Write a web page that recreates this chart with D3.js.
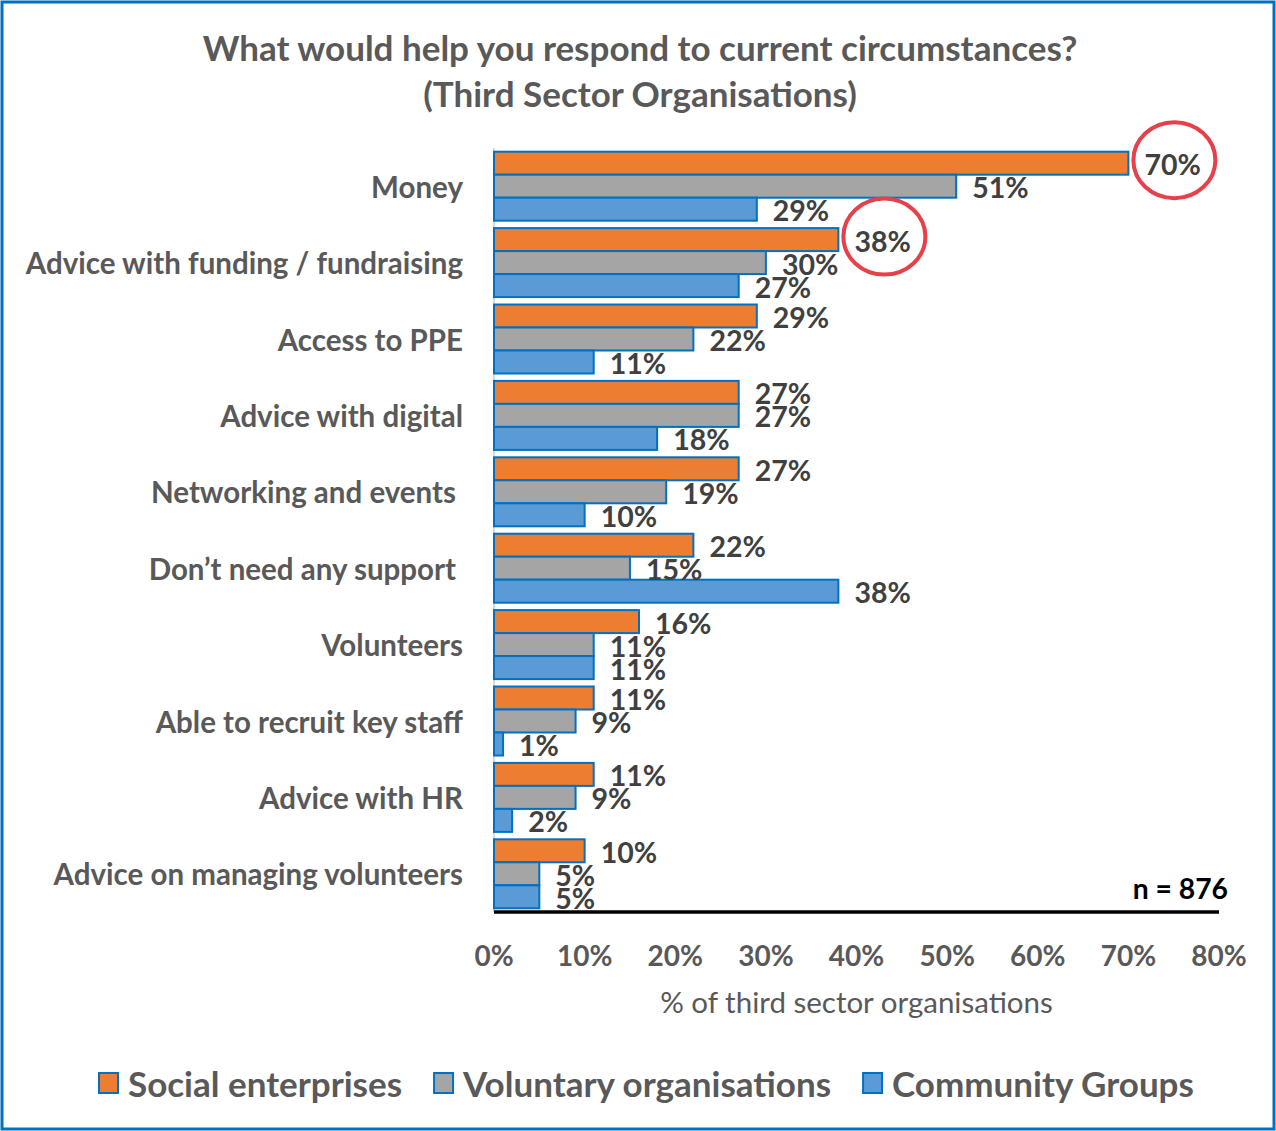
<!DOCTYPE html>
<html><head><meta charset="utf-8">
<script src="https://cdn.jsdelivr.net/npm/d3@7"></script>
<style>body{margin:0;background:#fff}svg{display:block}text{font-family:Lato,"Open Sans",sans-serif}</style>
</head><body>
<script>
const categories = ["Money","Advice with funding / fundraising","Access to PPE","Advice with digital","Networking and events","Don\u2019t need any support","Volunteers","Able to recruit key staff","Advice with HR","Advice on managing volunteers"];
const seriesNames = ["Social enterprises","Voluntary organisations","Community Groups"];
const socialEnterprises = [70,38,29,27,27,22,16,11,11,10];
const voluntaryOrgs = [51,30,22,27,19,15,11,9,9,5];
const communityGroups = [29,27,11,18,10,38,11,1,2,5];
const xTicks = [0,10,20,30,40,50,60,70,80];
const highlights = [{cat:0, s:0},{cat:1, s:0}];
const colors = ["#ED7D31","#A5A5A5","#5B9BD5"];

const W=1276,H=1131;
const svg=d3.select("body").append("svg").attr("width",W).attr("height",H);
svg.append("rect").attr("x",2).attr("y",2).attr("width",W-4).attr("height",H-4).attr("fill","#fff").attr("stroke","#0070C0").attr("stroke-width",3);

svg.append("text").attr("x",640).attr("y",47).attr("text-anchor","middle").attr("dominant-baseline","central")
  .attr("font-size",35).attr("font-weight","bold").attr("fill","#595959").text("What would help you respond to current circumstances?");
svg.append("text").attr("x",640).attr("y",93).attr("text-anchor","middle").attr("dominant-baseline","central")
  .attr("font-size",35).attr("font-weight","bold").attr("fill","#595959").text("(Third Sector Organisations)");

const x=d3.scaleLinear().domain([0,80]).range([494,1219]);
const y=d3.scaleBand().domain(categories).range([148,912]).paddingInner(0.097).paddingOuter(0.0485);
const ys=d3.scaleBand().domain([0,1,2]).range([0,y.bandwidth()]);
const values=[socialEnterprises,voluntaryOrgs,communityGroups];

svg.append("line").attr("x1",494).attr("x2",494).attr("y1",148).attr("y2",912).attr("stroke","#D9D9D9").attr("stroke-width",2);

const data=[];
categories.forEach((c,i)=>values.forEach((arr,s)=>data.push({c,i,s,v:arr[i]})));

svg.append("g").selectAll("rect").data(data).join("rect")
  .attr("x",x(0)).attr("y",d=>y(d.c)+ys(d.s)).attr("width",d=>x(d.v)-x(0)).attr("height",ys.bandwidth())
  .attr("fill",d=>colors[d.s]).attr("stroke","#0070C0").attr("stroke-width",2);

svg.append("g").selectAll("text").data(data).join("text")
  .attr("x",d=>x(d.v)+16).attr("y",d=>y(d.c)+ys(d.s)+ys.bandwidth()/2+1).attr("dominant-baseline","central")
  .attr("font-size",28.5).attr("font-weight","bold").attr("fill","#404040").text(d=>d.v+"%");

svg.append("g").selectAll("text").data(categories).join("text")
  .attr("x",(d,i)=> (i===4||i===5)?456:463).attr("y",d=>y(d)+y.bandwidth()/2).attr("text-anchor","end").attr("dominant-baseline","central")
  .attr("font-size",29.5).attr("font-weight","bold").attr("fill","#595959").text(d=>d);

svg.append("line").attr("x1",494).attr("x2",1219).attr("y1",912).attr("y2",912).attr("stroke","#000").attr("stroke-width",3.5);
svg.append("g").selectAll("text").data(xTicks).join("text")
  .attr("x",d=>x(d)).attr("y",955).attr("text-anchor","middle").attr("dominant-baseline","central")
  .attr("font-size",28).attr("font-weight","bold").attr("fill","#595959").text(d=>d+"%");
svg.append("text").attr("x",(x(0)+x(80))/2).attr("y",1001).attr("text-anchor","middle").attr("dominant-baseline","central")
  .attr("font-size",29.5).attr("fill","#595959").text("% of third sector organisations");

svg.append("text").attr("x",1228).attr("y",888).attr("text-anchor","end").attr("dominant-baseline","central")
  .attr("font-size",28.3).attr("font-weight","bold").attr("fill","#000").text("n = 876");

svg.append("g").selectAll("ellipse").data(highlights).join("ellipse")
  .attr("cx",d=>x(values[d.s][d.cat])+46).attr("cy",d=>y(categories[d.cat])+ys(d.s)+ys.bandwidth()/2-3)
  .attr("rx",41).attr("ry",38).attr("fill","none").attr("stroke","#E8404A").attr("stroke-width",4);

const lg=svg.append("g");
let lx=99;
seriesNames.forEach((n,s)=>{
  lg.append("rect").attr("x",lx).attr("y",1073).attr("width",19).attr("height",20).attr("fill",colors[s]).attr("stroke","#0070C0").attr("stroke-width",2);
  const t=lg.append("text").attr("x",lx+29).attr("y",1083).attr("dominant-baseline","central")
    .attr("font-size",35).attr("font-weight","bold").attr("fill","#595959").text(n);
  lx+=29+t.node().getComputedTextLength()+32;
});
</script>
</body></html>
